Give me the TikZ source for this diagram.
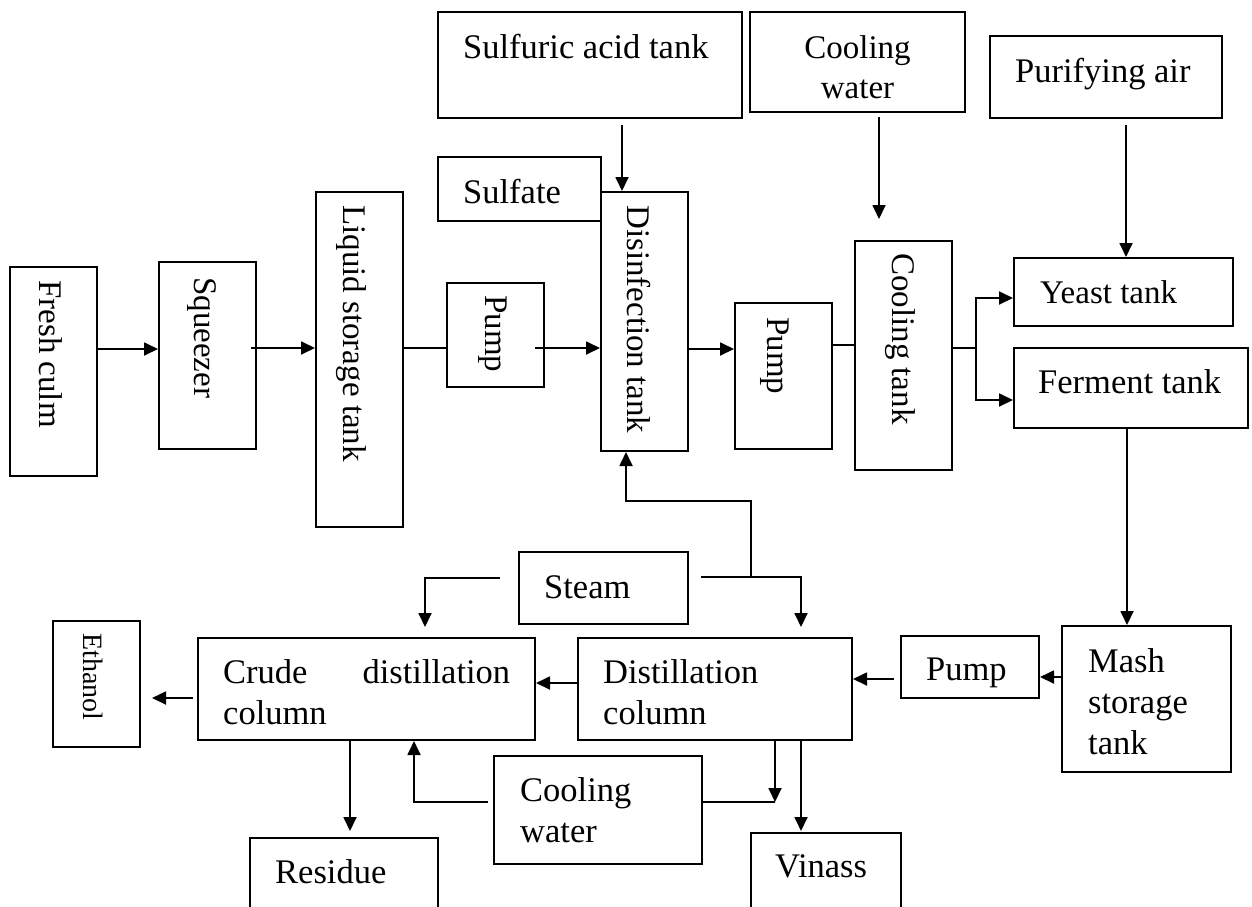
\documentclass[tikz,border=0pt]{standalone}
\usepackage{fontspec}
\setmainfont{Liberation Serif}
\usetikzlibrary{arrows.meta,fit,calc}

\begin{document}
\begin{tikzpicture}[x=1pt,y=-1pt,
  box/.style={draw, line width=2pt, inner sep=0pt},
  txt/.style={inner sep=0pt, font=\fontsize{34.5}{41}\selectfont},
  htxt/.style={txt, anchor=base west},
  vtxt/.style={txt, font=\fontsize{33}{41}\selectfont, rotate=-90, anchor=base west},
  flow/.style={line width=1.8pt},
  arr/.style={flow, -{Triangle[length=14pt,width=13pt]}},
]
\useasboundingbox (0,0) rectangle (1252,906);
\clip (0,0) rectangle (1252,906);

% ---- process units ----
\node[box, fit={(10,267) (97,476)}]     (fresh)    {};
\node[box, fit={(159,262) (256,449)}]   (squeezer) {};
\node[box, fit={(316,192) (403,527)}]   (liquid)   {};
\node[box, fit={(447,283) (544,387)}]   (pumpa)    {};
\node[box, fit={(438,12) (742,118)}]    (sulfuric) {};
\node[box, fit={(438,157) (601,221)}]   (sulfate)  {};
\node[box, fit={(601,192) (688,451)}]   (disinf)   {};
\node[box, fit={(735,303) (832,449)}]   (pumpb)    {};
\node[box, fit={(750,12) (965,112)}]    (coolwa)   {};
\node[box, fit={(855,241) (952,470)}]   (cooltank) {};
\node[box, fit={(990,36) (1222,118)}]   (purair)   {};
\node[box, fit={(1014,258) (1233,326)}] (yeast)    {};
\node[box, fit={(1014,348) (1248,428)}] (ferment)  {};
\node[box, fit={(1062,626) (1231,772)}] (mash)     {};
\node[box, fit={(901,636) (1039,698)}]  (pumpc)    {};
\node[box, fit={(578,638) (852,740)}]   (distill)  {};
\node[box, fit={(198,638) (535,740)}]   (crude)    {};
\node[box, fit={(53,621) (140,747)}]    (ethanol)  {};
\node[box, fit={(519,552) (688,624)}]   (steam)    {};
\node[box, fit={(494,756) (702,864)}]   (coolwb)   {};
\node[box, fit={(250,838) (438,930)}]   (residue)  {};
\node[box, fit={(751,833) (901,930)}]   (vinass)   {};

% ---- labels ----
\node[vtxt] (t-fresh)    at (39,280)  {Fresh culm};
\node[vtxt] (t-squeezer) at (194,277) {Squeezer};
\node[vtxt] (t-liquid)   at (343,205) {Liquid storage tank};
\node[vtxt] (t-pumpa)    at (485,295) {Pump};
\node[vtxt] (t-disinf)   at (627,205) {Disinfection tank};
\node[vtxt] (t-pumpb)    at (767,317) {Pump};
\node[vtxt] (t-cooltank) at (892,253) {Cooling tank};
\node[vtxt, font=\fontsize{28}{34}\selectfont] (t-ethanol) at (83,633) {Ethanol};
\node[htxt] (t-sulfuric) at (463,58)  {Sulfuric acid tank};
\node[txt, font=\fontsize{33}{40}\selectfont, anchor=base, text width=150pt, align=center] (t-coolwa) at (857.5,58) {Cooling\\water};
\node[htxt] (t-purair)   at (1015,82) {Purifying air};
\node[htxt] (t-sulfate)  at (463,203) {Sulfate};
\node[htxt, font=\fontsize{33}{41}\selectfont] (t-yeast) at (1040,303) {Yeast tank};
\node[htxt] (t-ferment)  at (1038,393) {Ferment tank};
\node[htxt] (t-steam)    at (544,598) {Steam};
\node[htxt, text width=287pt] (t-crude) at (223,683) {Crude\hfill distillation\\column};
\node[htxt, text width=200pt, align=left] (t-distill) at (603,683) {Distillation\\column};
\node[htxt] (t-pumpc)    at (926,680) {Pump};
\node[htxt, text width=140pt, align=left] (t-mash) at (1088,672) {Mash\\storage\\tank};
\node[htxt, text width=170pt, align=left] (t-coolwb) at (520,801) {Cooling\\water};
\node[htxt] (t-residue)  at (275,883) {Residue};
\node[htxt] (t-vinass)   at (775,877) {Vinass};

% ---- juice line ----
\draw[arr] (fresh.east |- 0,349) -- (squeezer.west |- 0,349);
\draw[arr] ($(squeezer.east |- 0,348)+(-6,0)$) -- (liquid.west |- 0,348);
\draw[flow] (liquid.east |- 0,348) -- (pumpa.west |- 0,348);
\draw[arr] ($(pumpa.east |- 0,348)+(-10,0)$) -- (disinf.west |- 0,348);
\draw[arr] (disinf.east |- 0,349) -- (pumpb.west |- 0,349);
\draw[flow] (pumpb.east |- 0,345) -- (cooltank.west |- 0,345);

% ---- feeds from above ----
\draw[arr] ($(sulfuric.south -| 622,0)+(0,6)$) -- (disinf.north -| 622,0);
\draw[arr] ($(coolwa.south -| 879,0)+(0,4)$) -- ($(cooltank.north -| 879,0)+(0,-21)$);
\draw[arr] ($(purair.south -| 1126,0)+(0,6)$) -- (yeast.north -| 1126,0);

% ---- split to yeast and ferment tanks ----
\coordinate (split) at (976,348);
\draw[flow] (cooltank.east |- split) -- (split);
\draw[arr] (split) |- (yeast.west |- 0,298);
\draw[arr] (split) |- (ferment.west |- 0,400);

% ---- mash to distillation ----
\draw[arr] (ferment.south -| 1127,0) -- (mash.north -| 1127,0);
\draw[arr] (mash.west |- 0,677) -- (pumpc.east |- 0,677);
\draw[arr] ($(pumpc.west |- 0,679)+(-6,0)$) -- (distill.east |- 0,679);
\draw[arr] (distill.west |- 0,683) -- (crude.east |- 0,683);
\draw[arr] ($(crude.west |- 0,698)+(-4,0)$) -- ($(ethanol.east |- 0,698)+(11,0)$);

% ---- steam ----
\coordinate (steamtap) at (751,577);
\draw[arr] ($(steam.west |- 0,578)+(-18,0)$) -| ($(crude.north -| 425,0)+(0,-10)$);
\draw[arr] ($(steam.east |- 0,577)+(12,0)$) -| ($(distill.north -| 801,0)+(0,-10)$);
\draw[arr] (steamtap) -- (steamtap |- 0,501) -| (disinf.south -| 626,0);

% ---- products and cooling water ----
\draw[arr] (crude.south -| 350,0) -- ($(residue.north -| 350,0)+(0,-6)$);
\draw[arr] ($(coolwb.west |- 0,802)+(-5,0)$) -| (crude.south -| 414,0);
\coordinate (cwjoin) at (775,802);
\draw[arr] (distill.south -| cwjoin) -- (cwjoin);
\draw[flow] (coolwb.east |- cwjoin) -- (cwjoin);
\draw[arr] (distill.south -| 801,0) -- ($(vinass.north -| 801,0)+(0,-1)$);
\end{tikzpicture}
\end{document}
